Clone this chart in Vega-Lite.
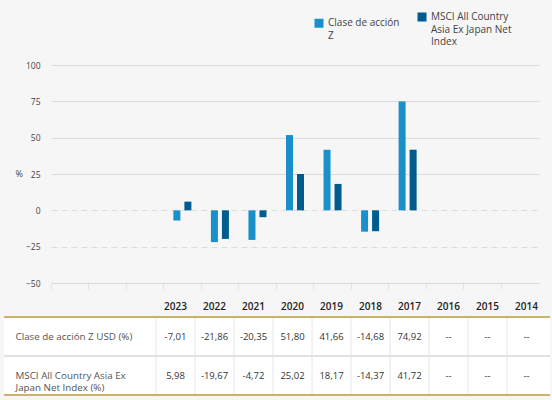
{
  "$schema": "https://vega.github.io/schema/vega-lite/v6.json",
  "description": "Rentabilidad anual: Clase de acción Z frente al índice MSCI AC Asia ex Japan",
  "background": "#f6f6f6",
  "padding": {"left": 3, "right": 3, "top": 12, "bottom": 5},
  "config": {
    "font": "Open Sans",
    "view": {"stroke": null},
    "concat": {"spacing": 11},
    "style": {"guide-label": {"lineHeight": 12.5}}
  },
  "datasets": {
    "rendimientos": [
      {"anio": "2023", "serie": "Clase de acción Z", "valor": -7.01, "texto": "-7,01"},
      {"anio": "2022", "serie": "Clase de acción Z", "valor": -21.86, "texto": "-21,86"},
      {"anio": "2021", "serie": "Clase de acción Z", "valor": -20.35, "texto": "-20,35"},
      {"anio": "2020", "serie": "Clase de acción Z", "valor": 51.80, "texto": "51,80"},
      {"anio": "2019", "serie": "Clase de acción Z", "valor": 41.66, "texto": "41,66"},
      {"anio": "2018", "serie": "Clase de acción Z", "valor": -14.68, "texto": "-14,68"},
      {"anio": "2017", "serie": "Clase de acción Z", "valor": 74.92, "texto": "74,92"},
      {"anio": "2016", "serie": "Clase de acción Z", "valor": null, "texto": "--"},
      {"anio": "2015", "serie": "Clase de acción Z", "valor": null, "texto": "--"},
      {"anio": "2014", "serie": "Clase de acción Z", "valor": null, "texto": "--"},
      {"anio": "2023", "serie": "MSCI All Country Asia Ex Japan Net Index", "valor": 5.98, "texto": "5,98"},
      {"anio": "2022", "serie": "MSCI All Country Asia Ex Japan Net Index", "valor": -19.67, "texto": "-19,67"},
      {"anio": "2021", "serie": "MSCI All Country Asia Ex Japan Net Index", "valor": -4.72, "texto": "-4,72"},
      {"anio": "2020", "serie": "MSCI All Country Asia Ex Japan Net Index", "valor": 25.02, "texto": "25,02"},
      {"anio": "2019", "serie": "MSCI All Country Asia Ex Japan Net Index", "valor": 18.17, "texto": "18,17"},
      {"anio": "2018", "serie": "MSCI All Country Asia Ex Japan Net Index", "valor": -14.37, "texto": "-14,37"},
      {"anio": "2017", "serie": "MSCI All Country Asia Ex Japan Net Index", "valor": 41.72, "texto": "41,72"},
      {"anio": "2016", "serie": "MSCI All Country Asia Ex Japan Net Index", "valor": null, "texto": "--"},
      {"anio": "2015", "serie": "MSCI All Country Asia Ex Japan Net Index", "valor": null, "texto": "--"},
      {"anio": "2014", "serie": "MSCI All Country Asia Ex Japan Net Index", "valor": null, "texto": "--"}
    ]
  },
  "resolve": {"scale": {"x": "independent", "y": "independent", "color": "independent"}},
  "vconcat": [
    {
      "width": 546,
      "height": 218,
      "data": {"name": "rendimientos"},
      "mark": {"type": "bar"},
      "encoding": {
        "x": {
          "field": "anio",
          "type": "nominal",
          "scale": {
            "domain": ["e1", "e2", "e3", "2023", "2022", "2021", "2020", "2019", "2018", "2017", "2016", "2015", "2014"],
            "range": [47, 535],
            "paddingInner": 0,
            "paddingOuter": 0
          },
          "axis": {
            "title": null,
            "labels": false,
            "grid": false,
            "bandPosition": 0,
            "domainColor": "#d9d9d9",
            "tickColor": "#e4e4e4",
            "tickSize": 6
          }
        },
        "xOffset": {
          "field": "serie",
          "sort": ["Clase de acción Z", "MSCI All Country Asia Ex Japan Net Index"],
          "scale": {"paddingInner": 0.364, "paddingOuter": 0.887}
        },
        "y": {
          "field": "valor",
          "type": "quantitative",
          "scale": {"domain": [-50, 100], "nice": false},
          "axis": {
            "values": [-50, -25, 0, 25, 50, 75, 100],
            "offset": -47,
            "domain": false,
            "ticks": false,
            "labelPadding": 11,
            "labelFontSize": 8.5,
            "labelColor": "#444444",
            "gridColor": "#dcdcdc",
            "gridDash": {"condition": {"test": "datum.value <= 0 && datum.value > -50", "value": [6, 4]}, "value": []},
            "title": "%",
            "titleAngle": 0,
            "titleX": -36,
            "titleY": 108,
            "titleAlign": "left",
            "titleBaseline": "middle",
            "titleFontSize": 9,
            "titleFontWeight": "normal",
            "titleColor": "#444444"
          }
        },
        "color": {
          "field": "serie",
          "type": "nominal",
          "sort": ["Clase de acción Z", "MSCI All Country Asia Ex Japan Net Index"],
          "scale": {"range": ["#1a90ca", "#005b8e"]},
          "legend": {
            "title": null,
            "orient": "none",
            "direction": "horizontal",
            "legendX": 310,
            "legendY": -53,
            "padding": 0,
            "symbolType": "square",
            "symbolSize": 81,
            "symbolStrokeWidth": 0,
            "labelFontSize": 10,
            "labelColor": "#444444",
            "labelLimit": 200,
            "labelOffset": 4,
            "columnPadding": 17,
            "labelExpr": "datum.label == 'Clase de acción Z' ? ['Clase de acción', 'Z'] : ['MSCI All Country', 'Asia Ex Japan Net', 'Index']"
          }
        }
      }
    },
    {
      "width": 546,
      "height": 78,
      "view": {"fill": "white", "stroke": null},
      "data": {"name": "rendimientos"},
      "resolve": {"axis": {"x": "independent", "y": "independent"}},
      "layer": [
        {
          "mark": {"type": "text", "fontSize": 9.5, "color": "#333333", "baseline": "middle"},
          "encoding": {
            "text": {"field": "texto"},
            "x": {
              "field": "anio",
              "type": "nominal",
              "scale": {
                "domain": ["l1", "l2", "l3", "l4", "2023", "2022", "2021", "2020", "2019", "2018", "2017", "2016", "2015", "2014"],
                "range": [-4, 542],
                "paddingInner": 0,
                "paddingOuter": 0
              },
              "axis": {
                "orient": "top",
                "values": ["2023", "2022", "2021", "2020", "2019", "2018", "2017", "2016", "2015", "2014"],
                "title": null,
                "domain": false,
                "ticks": false,
                "grid": false,
                "labelAngle": 0,
                "labelPadding": 6,
                "labelFontSize": 10,
                "labelFontWeight": 600,
                "labelColor": "#222222"
              }
            },
            "y": {
              "field": "serie",
              "type": "nominal",
              "sort": ["Clase de acción Z", "MSCI All Country Asia Ex Japan Net Index"],
              "scale": {"paddingInner": 0, "paddingOuter": 0},
              "axis": {
                "orient": "left",
                "offset": -11,
                "title": null,
                "domain": false,
                "ticks": false,
                "grid": false,
                "labelAlign": "left",
                "labelBaseline": "middle",
                "labelPadding": 0,
                "labelFontSize": 9.8,
                "labelColor": "#555555",
                "labelLimit": 200,
                "labelLineHeight": 12,
                "labelExpr": "datum.label == 'Clase de acción Z' ? 'Clase de acción Z USD (%)' : ['MSCI All Country Asia Ex', 'Japan Net Index (%)']"
              }
            }
          }
        },
        {
          "transform": [{"filter": "datum.serie == 'Clase de acción Z'"}],
          "mark": {"type": "rule", "color": "#e6e6e6", "strokeWidth": 1},
          "encoding": {
            "x": {"field": "anio", "type": "nominal", "bandPosition": 0, "axis": null}
          }
        },
        {
          "transform": [{"filter": "datum.serie == 'MSCI All Country Asia Ex Japan Net Index' && datum.anio == '2023'"}],
          "mark": {"type": "rule", "color": "#e2e2e2", "strokeWidth": 2},
          "encoding": {
            "y": {"field": "serie", "type": "nominal", "bandPosition": 0, "axis": null}
          }
        },
        {
          "transform": [{"filter": "datum.serie == 'Clase de acción Z' && datum.anio == '2023'"}],
          "mark": {"type": "rule", "color": "#cdb06a", "strokeWidth": 2},
          "encoding": {
            "y": {"field": "serie", "type": "nominal", "bandPosition": 0, "axis": null}
          }
        },
        {
          "transform": [{"filter": "datum.serie == 'MSCI All Country Asia Ex Japan Net Index' && datum.anio == '2023'"}],
          "mark": {"type": "rule", "color": "#cdb06a", "strokeWidth": 2},
          "encoding": {
            "y": {"field": "serie", "type": "nominal", "bandPosition": 1, "axis": null}
          }
        }
      ]
    }
  ]
}
